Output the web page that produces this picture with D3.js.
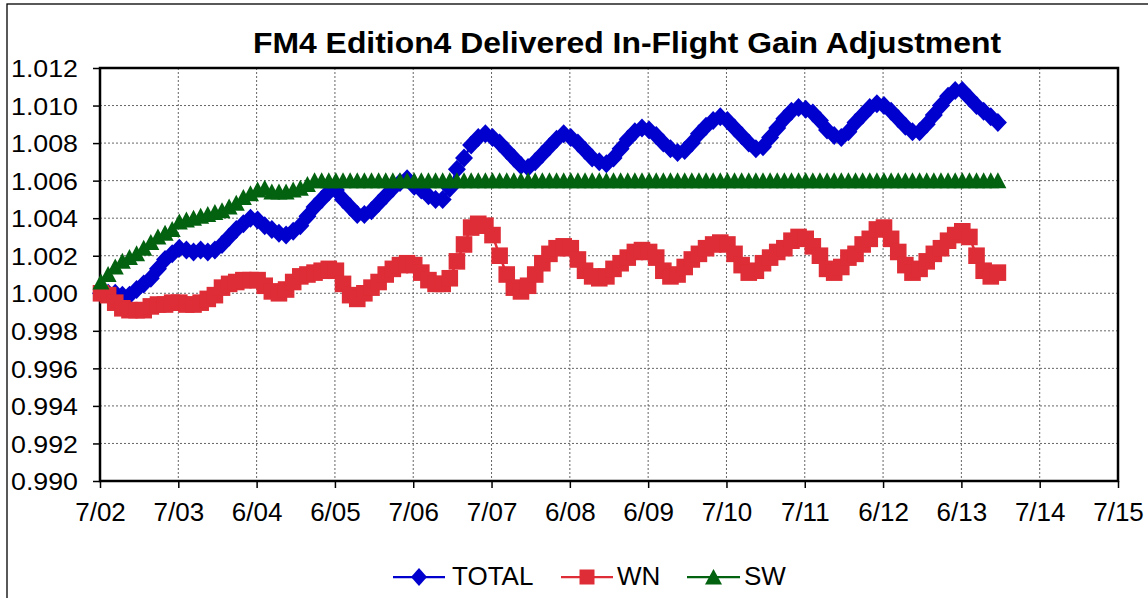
<!DOCTYPE html>
<html>
<head>
<meta charset="utf-8">
<script src="https://cdn.jsdelivr.net/npm/d3@7"></script>
<style>
  html, body { margin: 0; padding: 0; background: #fff; }
  svg { display: block; font-family: "Liberation Sans", Arial, sans-serif; }
</style>
</head>
<body>
<svg id="chart" width="1148" height="598"></svg>
<script>
// ---------------- DATA ----------------
const chartTitle = "FM4 Edition4 Delivered In-Flight Gain Adjustment";
const xTickLabels = ["7/02","7/03","6/04","6/05","7/06","7/07","6/08","6/09","7/10","7/11","6/12","6/13","7/14","7/15"];
const yTickValues = [0.990,0.992,0.994,0.996,0.998,1.000,1.002,1.004,1.006,1.008,1.010,1.012];
const seriesNames = ["TOTAL","WN","SW"];
// sample time, in years after the first tick (7/02)
const sampleStart = 0.0128;
const sampleStep = 0.0909;

const totalValues = [
1.0000,1.0000,1.0000,0.9999,0.9999,1.0002,1.0005,1.0008,1.0013,1.0018,
1.0021,1.0024,1.0023,1.0022,1.0023,1.0022,1.0023,1.0026,1.0030,1.0034,
1.0037,1.0040,1.0039,1.0036,1.0034,1.0032,1.0031,1.0033,1.0036,1.0041,
1.0046,1.0050,1.0054,1.0055,1.0050,1.0046,1.0042,1.0042,1.0044,1.0048,
1.0052,1.0056,1.0059,1.0061,1.0057,1.0055,1.0052,1.0050,1.0050,1.0056,
1.0066,1.0072,1.0079,1.0083,1.0085,1.0083,1.0080,1.0076,1.0072,1.0068,
1.0067,1.0070,1.0074,1.0078,1.0082,1.0085,1.0083,1.0080,1.0076,1.0072,
1.0070,1.0069,1.0072,1.0077,1.0082,1.0086,1.0088,1.0087,1.0084,1.0080,
1.0077,1.0075,1.0076,1.0080,1.0085,1.0089,1.0092,1.0094,1.0092,1.0088,
1.0084,1.0080,1.0077,1.0078,1.0083,1.0088,1.0093,1.0097,1.0099,1.0098,
1.0096,1.0092,1.0087,1.0084,1.0083,1.0086,1.0091,1.0095,1.0099,1.0101,
1.0100,1.0097,1.0093,1.0089,1.0086,1.0086,1.0090,1.0095,1.0100,1.0105,
1.0108,1.0108,1.0104,1.0100,1.0097,1.0094,1.0091
];

const wnValues = [
1.0000,0.9999,0.9995,0.9992,0.9991,0.9991,0.9991,0.9993,0.9994,0.9994,
0.9995,0.9995,0.9994,0.9994,0.9995,0.9997,0.9999,1.0003,1.0005,1.0006,
1.0007,1.0007,1.0007,1.0004,1.0001,1.0000,1.0002,1.0006,1.0009,1.0010,
1.0011,1.0012,1.0013,1.0012,1.0005,0.9999,0.9997,1.0000,1.0003,1.0006,
1.0010,1.0013,1.0015,1.0016,1.0015,1.0011,1.0007,1.0005,1.0005,1.0008,
1.0017,1.0026,1.0035,1.0037,1.0036,1.0031,1.0020,1.0010,1.0003,1.0001,
1.0004,1.0010,1.0016,1.0021,1.0024,1.0025,1.0024,1.0018,1.0012,1.0009,
1.0008,1.0009,1.0013,1.0016,1.0019,1.0022,1.0023,1.0022,1.0019,1.0012,
1.0009,1.0010,1.0014,1.0018,1.0021,1.0024,1.0026,1.0027,1.0026,1.0021,
1.0015,1.0011,1.0012,1.0016,1.0019,1.0022,1.0024,1.0028,1.0030,1.0029,
1.0025,1.0020,1.0013,1.0011,1.0014,1.0019,1.0021,1.0026,1.0029,1.0034,
1.0035,1.0029,1.0022,1.0015,1.0011,1.0013,1.0017,1.0021,1.0024,1.0028,
1.0031,1.0033,1.0030,1.0020,1.0012,1.0009,1.0011
];

const swValues = [
1.0006,1.0010,1.0014,1.0017,1.0019,1.0021,1.0024,1.0027,1.0030,1.0032,
1.0034,1.0038,1.0039,1.0040,1.0041,1.0042,1.0043,1.0044,1.0046,1.0048,
1.0051,1.0053,1.0055,1.0056,1.0054,1.0054,1.0054,1.0055,1.0056,1.0058,
1.0060,1.0060,1.0060,1.0060,1.0060,1.0060,1.0060,1.0060,1.0060,1.0060,
1.0060,1.0060,1.0060,1.0060,1.0060,1.0060,1.0060,1.0060,1.0060,1.0060,
1.0060,1.0060,1.0060,1.0060,1.0060,1.0060,1.0060,1.0060,1.0060,1.0060,
1.0060,1.0060,1.0060,1.0060,1.0060,1.0060,1.0060,1.0060,1.0060,1.0060,
1.0060,1.0060,1.0060,1.0060,1.0060,1.0060,1.0060,1.0060,1.0060,1.0060,
1.0060,1.0060,1.0060,1.0060,1.0060,1.0060,1.0060,1.0060,1.0060,1.0060,
1.0060,1.0060,1.0060,1.0060,1.0060,1.0060,1.0060,1.0060,1.0060,1.0060,
1.0060,1.0060,1.0060,1.0060,1.0060,1.0060,1.0060,1.0060,1.0060,1.0060,
1.0060,1.0060,1.0060,1.0060,1.0060,1.0060,1.0060,1.0060,1.0060,1.0060,
1.0060,1.0060,1.0060,1.0060,1.0060,1.0060,1.0060
];

// ---------------- STYLE / LAYOUT ----------------
const colors = { TOTAL: "#0000CE", WN: "#DE2D36", SW: "#03620F" };
const markerShape = { TOTAL: "diamond", WN: "square", SW: "triangle" };
const plot = { left: 100, right: 1118, top: 68, bottom: 481 };

const svg = d3.select("#chart");

// outer chart frame (only left/top edges visible)
svg.append("rect").attr("x", 7).attr("y", 4).attr("width", 1300).attr("height", 800)
  .attr("fill", "none").attr("stroke", "#000").attr("stroke-width", 1.3);

const x = d3.scaleLinear().domain([0, xTickLabels.length - 1]).range([plot.left, plot.right]);
const y = d3.scaleLinear().domain([0.990, 1.012]).range([plot.bottom, plot.top]);

// gridlines
const grid = svg.append("g");
grid.selectAll("line.hg").data(yTickValues).enter().append("line")
  .attr("x1", plot.left).attr("x2", plot.right)
  .attr("y1", d => y(d)).attr("y2", d => y(d))
  .attr("stroke", "#666").attr("stroke-width", 1).attr("stroke-dasharray", "2,2");
grid.selectAll("line.vg").data(d3.range(1, xTickLabels.length - 1)).enter().append("line")
  .attr("x1", d => x(d)).attr("x2", d => x(d))
  .attr("y1", plot.top).attr("y2", plot.bottom)
  .attr("stroke", "#666").attr("stroke-width", 1).attr("stroke-dasharray", "2,2");

// axes via d3
const yAxis = d3.axisLeft(y).tickValues(yTickValues).tickSize(7).tickFormat(d => d.toFixed(3));
const yG = svg.append("g").attr("transform", `translate(${plot.left},0)`).call(yAxis);
yG.select(".domain").remove();
yG.selectAll(".tick line").attr("stroke", "#000").attr("stroke-width", 1.5);
yG.selectAll(".tick text")
  .attr("x", -22).attr("dy", "0.36em")
  .style("font-family", '"Liberation Sans", Arial, sans-serif')
  .style("font-size", "24px").attr("fill", "#000")
  .attr("textLength", 67).attr("lengthAdjust", "spacingAndGlyphs");

const xAxis = d3.axisBottom(x).tickValues(d3.range(xTickLabels.length)).tickSize(7)
  .tickFormat(i => xTickLabels[i]);
const xG = svg.append("g").attr("transform", `translate(0,${plot.bottom})`).call(xAxis);
xG.select(".domain").remove();
xG.selectAll(".tick line").attr("stroke", "#000").attr("stroke-width", 1.5);
xG.selectAll(".tick text")
  .attr("y", 40).attr("dy", 0)
  .style("font-family", '"Liberation Sans", Arial, sans-serif')
  .style("font-size", "26px").attr("fill", "#000");

// plot frame
svg.append("rect").attr("x", plot.left).attr("y", plot.top)
  .attr("width", plot.right - plot.left).attr("height", plot.bottom - plot.top)
  .attr("fill", "none").attr("stroke", "#000").attr("stroke-width", 2.5);

// marker paths
function markerPath(shape) {
  if (shape === "diamond") return "M0,-9.5L9,0L0,9.5L-9,0Z";
  if (shape === "square") return "M-8.3,-8.3H8.3V8.3H-8.3Z";
  return "M0,-8.5L8.5,7.5L-8.5,7.5Z";
}

const seriesData = {
  TOTAL: totalValues,
  WN: wnValues,
  SW: swValues
};

const line = d3.line().x(d => x(d.t)).y(d => y(d.v));
seriesNames.forEach(name => {
  const pts = seriesData[name].map((v, i) => ({ t: sampleStart + i * sampleStep, v }));
  const g = svg.append("g");
  g.append("path").datum(pts).attr("d", line)
    .attr("fill", "none").attr("stroke", colors[name]).attr("stroke-width", 2.5);
  g.selectAll("path.m").data(pts).enter().append("path")
    .attr("class", "m")
    .attr("transform", d => `translate(${x(d.t)},${y(d.v)})`)
    .attr("d", markerPath(markerShape[name]))
    .attr("fill", colors[name]);
});

// title
svg.append("text").attr("x", 627).attr("y", 52.5).attr("text-anchor", "middle")
  .style("font-size", "29px").style("font-weight", "bold").attr("fill", "#000")
  .attr("textLength", 748).attr("lengthAdjust", "spacingAndGlyphs")
  .text(chartTitle);

// legend
const legendPos = { TOTAL: { x1: 393, x2: 445, tx: 452 }, WN: { x1: 561, x2: 613, tx: 617 }, SW: { x1: 687, x2: 740, tx: 744 } };
const legendY = 577;
const legendMarker = {
  diamond: "M0,-9L8,0L0,9L-8,0Z",
  square: "M-7.5,-7.5H7.5V7.5H-7.5Z",
  triangle: "M0,-8L8.5,7.5L-8.5,7.5Z"
};
seriesNames.forEach(name => {
  const p = legendPos[name];
  const g = svg.append("g");
  g.append("line").attr("x1", p.x1).attr("x2", p.x2).attr("y1", legendY).attr("y2", legendY)
    .attr("stroke", colors[name]).attr("stroke-width", 2.25);
  g.append("path").attr("transform", `translate(${(p.x1 + p.x2) / 2},${legendY})`)
    .attr("d", legendMarker[markerShape[name]]).attr("fill", colors[name]);
  g.append("text").attr("x", p.tx).attr("y", 585).style("font-size", "26px").attr("fill", "#000").text(name);
});
</script>
</body>
</html>
